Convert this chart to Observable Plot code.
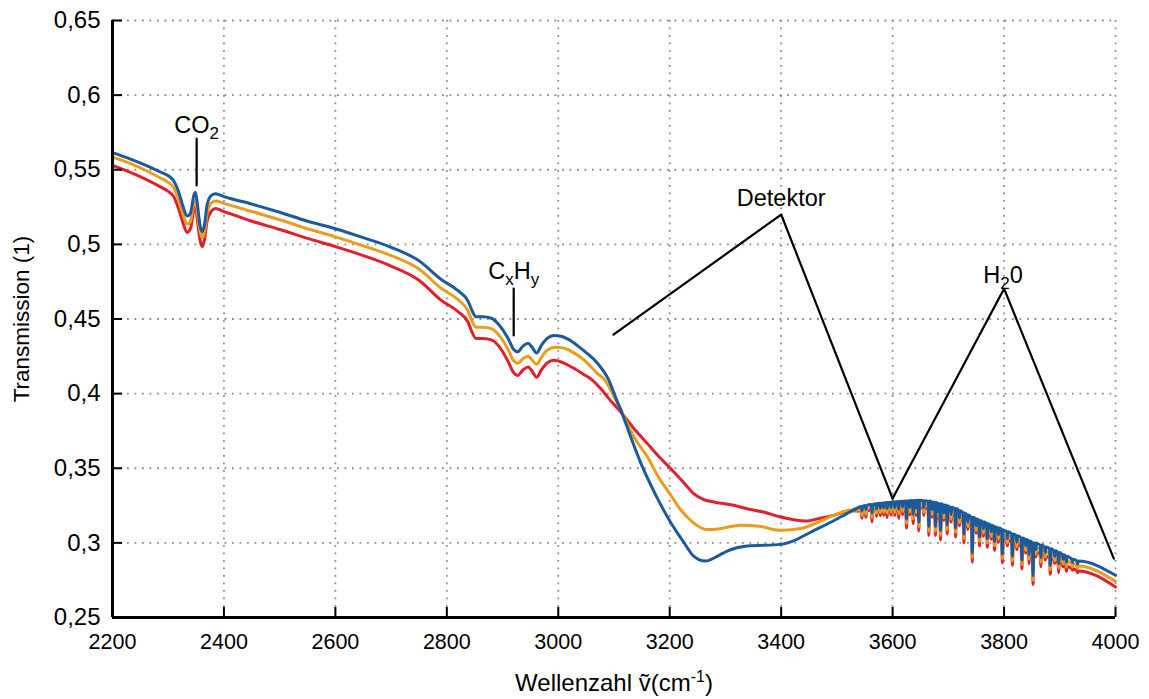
<!DOCTYPE html>
<html><head><meta charset="utf-8">
<script src="https://cdn.jsdelivr.net/npm/d3@7"></script>
<script src="https://cdn.jsdelivr.net/npm/@observablehq/plot@0.6"></script>
<style>
html,body{margin:0;padding:0;background:#fff;}
</style>
</head><body><div id="chart"></div>
<script>
// ---- tick values ----
const xTicks = [2200, 2400, 2600, 2800, 3000, 3200, 3400, 3600, 3800, 4000];
const yTicks = [0.25, 0.3, 0.35, 0.4, 0.45, 0.5, 0.55, 0.6, 0.65];

// ---- spectra: smooth part [wavenumber, transmission] ----
const blueBase = [
[2200,0.5615],[2230,0.5575],[2260,0.553],[2286,0.5485],[2300,0.546],[2310,0.5425],[2318,0.536],[2326,0.526],
[2334,0.519],[2340,0.521],[2346,0.533],[2349,0.535],[2352,0.528],[2357,0.513],[2361,0.5085],[2365,0.513],
[2370,0.527],[2378,0.533],[2385,0.534],[2400,0.532],[2450,0.527],[2500,0.5215],[2550,0.5155],[2600,0.5105],
[2650,0.5045],[2700,0.498],[2750,0.489],[2790,0.4765],[2820,0.469],[2838,0.462],[2846,0.455],[2852,0.4515],
[2865,0.4515],[2880,0.4505],[2895,0.4455],[2910,0.437],[2920,0.4295],[2927,0.428],[2937,0.432],[2946,0.4337],
[2953,0.431],[2961,0.4272],[2970,0.4325],[2980,0.437],[2992,0.439],[3005,0.4385],[3020,0.436],[3035,0.432],
[3050,0.4275],[3070,0.4205],[3090,0.4095],[3105,0.3955],[3112,0.3893],[3130,0.371],[3148,0.3536],[3175,0.332],
[3202,0.3135],[3225,0.3005],[3243,0.2911],[3264,0.2878],[3285,0.291],[3303,0.2945],[3339,0.2979],[3399,0.299],
[3420,0.301],[3440,0.3046],[3460,0.3085],[3482,0.3125],[3510,0.318],[3536,0.3232],[3560,0.3257],[3600,0.3274],
[3650,0.3285],[3700,0.3245],[3740,0.3175],[3800,0.3084],[3860,0.2995],[3920,0.2895],[4000,0.2783]
];
const orangeBase = [
[2200,0.5585],[2230,0.5545],[2260,0.5495],[2286,0.5445],[2300,0.5415],[2310,0.538],[2318,0.5305],[2326,0.521],
[2334,0.5135],[2340,0.5155],[2346,0.528],[2349,0.5295],[2352,0.522],[2357,0.509],[2361,0.5045],[2365,0.508],
[2370,0.521],[2378,0.528],[2385,0.529],[2400,0.5275],[2450,0.522],[2500,0.5165],[2550,0.5105],[2600,0.505],
[2650,0.499],[2700,0.4925],[2750,0.4835],[2790,0.4705],[2820,0.463],[2838,0.4555],[2846,0.448],[2852,0.4445],
[2865,0.4445],[2880,0.4435],[2895,0.4385],[2910,0.4295],[2920,0.422],[2927,0.4203],[2937,0.4235],[2946,0.425],
[2953,0.4225],[2961,0.4196],[2970,0.4245],[2980,0.429],[2995,0.431],[3010,0.4305],[3025,0.428],[3045,0.423],
[3070,0.4136],[3083,0.4094],[3100,0.398],[3112,0.3893],[3135,0.3715],[3160,0.3575],[3180,0.344],[3202,0.3319],
[3220,0.322],[3237,0.3152],[3252,0.311],[3267,0.3089],[3290,0.3095],[3327,0.3118],[3360,0.3112],[3399,0.3084],
[3440,0.31],[3470,0.3145],[3494,0.3184],[3525,0.322],[3560,0.3237],[3600,0.3251],[3650,0.326],[3700,0.322],
[3740,0.315],[3800,0.3055],[3860,0.2965],[3920,0.2863],[4000,0.2742]
];
const redBase = [
[2200,0.5529],[2230,0.5485],[2260,0.5435],[2286,0.5385],[2300,0.5355],[2310,0.532],[2318,0.5245],[2326,0.515],
[2334,0.508],[2340,0.5105],[2346,0.523],[2349,0.525],[2352,0.517],[2357,0.503],[2361,0.4985],[2365,0.503],
[2370,0.516],[2378,0.5225],[2385,0.524],[2400,0.522],[2450,0.5155],[2500,0.51],[2550,0.504],[2600,0.4985],
[2650,0.4925],[2700,0.4855],[2750,0.476],[2790,0.4625],[2820,0.455],[2838,0.448],[2846,0.4405],[2852,0.437],
[2865,0.437],[2880,0.436],[2895,0.431],[2910,0.4215],[2920,0.414],[2927,0.4122],[2937,0.416],[2946,0.4178],
[2953,0.415],[2961,0.411],[2970,0.416],[2980,0.4205],[2992,0.4223],[3010,0.4205],[3030,0.4165],[3045,0.413],
[3060,0.4094],[3076,0.4035],[3090,0.397],[3112,0.3877],[3135,0.377],[3160,0.3665],[3180,0.358],[3202,0.3497],
[3225,0.3405],[3243,0.333],[3260,0.3292],[3279,0.3274],[3310,0.3255],[3339,0.3229],[3370,0.3205],[3399,0.3173],
[3444,0.3146],[3470,0.3165],[3494,0.3184],[3525,0.3215],[3560,0.322],[3600,0.323],[3650,0.3235],[3700,0.3195],
[3740,0.3125],[3800,0.303],[3860,0.2935],[3920,0.283],[4000,0.2704]
];

// ---- water-vapour absorption lines: [wavenumber, level beside line, bottom of line] ----
const blueSpikes = [
[3563,0.3257,0.320],[3590,0.3270,0.323],[3611,0.3278,0.3225],[3625,0.3281,0.316],[3637,0.3284,0.319],
[3647,0.3285,0.314],[3665,0.3280,0.311],[3677,0.3270,0.311],[3686,0.3262,0.308],[3698,0.3248,0.312],
[3713,0.3230,0.310],[3728,0.3200,0.306],[3743,0.3172,0.293],[3756,0.3150,0.304],[3770,0.3128,0.303],
[3783,0.3108,0.301],[3797,0.3088,0.2925],[3815,0.3060,0.291],[3832,0.3032,0.2885],[3845,0.3012,0.292],
[3852,0.3000,0.278],[3866,0.2985,0.290],[3883,0.2960,0.285],[3898,0.2935,0.286],[3912,0.2910,0.287]
];
const orangeSpikes = [
[3563,0.3237,0.317],[3590,0.3247,0.320],[3611,0.3253,0.3195],[3625,0.3256,0.313],[3637,0.3259,0.316],
[3647,0.3260,0.311],[3665,0.3255,0.308],[3677,0.3245,0.308],[3686,0.3237,0.305],[3698,0.3223,0.309],
[3713,0.3203,0.307],[3728,0.3173,0.303],[3743,0.3145,0.290],[3756,0.3122,0.301],[3770,0.3099,0.300],
[3783,0.3079,0.298],[3797,0.3058,0.2895],[3815,0.3030,0.288],[3832,0.3002,0.2855],[3845,0.2982,0.289],
[3852,0.2970,0.275],[3866,0.2955,0.287],[3883,0.2928,0.282],[3898,0.2903,0.283],[3912,0.2878,0.284]
];
const redSpikes = [
[3563,0.3222,0.314],[3590,0.3227,0.317],[3611,0.3231,0.3165],[3625,0.3233,0.310],[3637,0.3235,0.313],
[3647,0.3235,0.308],[3665,0.3230,0.305],[3677,0.3220,0.305],[3686,0.3212,0.302],[3698,0.3198,0.306],
[3713,0.3178,0.304],[3728,0.3147,0.300],[3743,0.3120,0.287],[3756,0.3097,0.298],[3770,0.3072,0.297],
[3783,0.3051,0.295],[3797,0.3034,0.2865],[3815,0.3003,0.285],[3832,0.2974,0.2825],[3845,0.2952,0.286],
[3852,0.2940,0.272],[3866,0.2925,0.284],[3883,0.2898,0.279],[3898,0.2870,0.280],[3912,0.2843,0.281]
];
// small lines (noise band)
const blueNoise = [
[3545,0.3243,0.3215],[3552,0.3250,0.3222],[3571,0.3262,0.3228],[3578,0.3265,0.3232],[3584,0.3268,0.3235],
[3597,0.3273,0.3238],[3604,0.3275,0.3235],[3618,0.3279,0.3240],[3631,0.3282,0.3238],[3642,0.3284,0.3235],
[3656,0.3283,0.3235],[3671,0.3274,0.3222],[3682,0.3264,0.3210],[3692,0.3254,0.3200],[3705,0.3238,0.3190],
[3720,0.3215,0.3165],[3735,0.3186,0.3140],[3750,0.3160,0.3115],[3763,0.3140,0.3095],[3777,0.3118,0.3075],
[3790,0.3100,0.3055],[3806,0.3075,0.3030],[3823,0.3048,0.3005],[3839,0.3022,0.2980],[3857,0.2999,0.2955],
[3874,0.2972,0.2935],[3891,0.2947,0.2910],[3906,0.2920,0.2890],[3923,0.2891,0.2868],[3932,0.2878,0.2858]
];
const orangeNoise = [
[3545,0.3221,0.3185],[3552,0.3228,0.3192],[3571,0.3240,0.3198],[3578,0.3243,0.3202],[3584,0.3245,0.3205],
[3597,0.3250,0.3208],[3604,0.3252,0.3205],[3618,0.3255,0.3210],[3631,0.3258,0.3208],[3642,0.3259,0.3205],
[3656,0.3258,0.3205],[3671,0.3249,0.3192],[3682,0.3239,0.3180],[3692,0.3229,0.3170],[3705,0.3212,0.3160],
[3720,0.3188,0.3135],[3735,0.3160,0.3110],[3750,0.3133,0.3085],[3763,0.3112,0.3065],[3777,0.3090,0.3045],
[3790,0.3071,0.3025],[3806,0.3046,0.3000],[3823,0.3018,0.2975],[3839,0.2991,0.2950],[3857,0.2969,0.2925],
[3874,0.2941,0.2905],[3891,0.2915,0.2880],[3906,0.2888,0.2860],[3923,0.2858,0.2838],[3932,0.2845,0.2828]
];
const redNoise = [
[3545,0.3211,0.3165],[3552,0.3214,0.3172],[3571,0.3223,0.3178],[3578,0.3225,0.3182],[3584,0.3226,0.3185],
[3597,0.3229,0.3188],[3604,0.3230,0.3185],[3618,0.3232,0.3190],[3631,0.3234,0.3188],[3642,0.3235,0.3185],
[3656,0.3233,0.3185],[3671,0.3224,0.3172],[3682,0.3214,0.3160],[3692,0.3204,0.3150],[3705,0.3188,0.3140],
[3720,0.3163,0.3115],[3735,0.3134,0.3090],[3750,0.3108,0.3065],[3763,0.3087,0.3045],[3777,0.3063,0.3025],
[3790,0.3045,0.3005],[3806,0.3020,0.2980],[3823,0.2990,0.2955],[3839,0.2962,0.2930],[3857,0.2940,0.2905],
[3874,0.2910,0.2885],[3891,0.2882,0.2860],[3906,0.2855,0.2840],[3923,0.2826,0.2816],[3932,0.2812,0.2800]
];

// ---- annotations ----
const detektorPath = [[3099,0.4395],[3400,0.52],[3600,0.3297]];
const h2oPath = [[3600,0.3297],[3800,0.4703],[3997,0.2894]];
const co2Pointer = [[2351,0.5708],[2351,0.5395]];
const cxhyPointer = [[2920,0.4703],[2920,0.439]];
const annoLabels = [
  {key:"CO2", x:2351, y:0.5743},
  {key:"CxHy", x:2920, y:0.477},
  {key:"Detektor", x:3400, y:0.5254},
  {key:"H2O", x:3798, y:0.474}
];
const yTitle = "Transmission (1)";
const xTitle = "Wellenzahl v(cm-1)";

function buildSeries(base, ...lineSets) {
  const pts = base.map(([x, y]) => ({x, y}));
  for (const set of lineSets) for (const [x, level, bottom] of set) {
    pts.push({x: x - 1.4, y: level}, {x, y: bottom}, {x: x + 1.4, y: level});
  }
  pts.sort((a, b) => a.x - b.x);
  return pts;
}
const blue = buildSeries(blueBase, blueSpikes, blueNoise);
const orange = buildSeries(orangeBase, orangeSpikes, orangeNoise);
const red = buildSeries(redBase, redSpikes, redNoise);
const toObj = (arr) => arr.map(([x, y]) => ({x, y}));

const FONT = "'Liberation Sans', Arial, Helvetica, sans-serif";
const gridStyle = {stroke: "#8c8c8c", strokeOpacity: 1, strokeWidth: 1.8, strokeDasharray: "1.8 5.7"};
const lineW = 3;
const curve = "monotone-x";

const chart = Plot.plot({
  width: 1149, height: 699,
  marginLeft: 112, marginRight: 34, marginTop: 20, marginBottom: 82,
  style: {fontFamily: FONT, fontSize: "21px", color: "#000", background: "#fff", overflow: "visible"},
  x: {domain: [2200, 4000]},
  y: {domain: [0.25, 0.65]},
  marks: [
    Plot.gridX(xTicks.slice(1), gridStyle),
    Plot.gridY(yTicks.slice(1), gridStyle),
    Plot.line(red, {x: "x", y: "y", stroke: "#e2202c", strokeWidth: lineW, curve}),
    Plot.line(orange, {x: "x", y: "y", stroke: "#ec9c1c", strokeWidth: lineW, curve}),
    Plot.line(blue, {x: "x", y: "y", stroke: "#1b5b9d", strokeWidth: lineW, curve}),
    Plot.line(toObj(detektorPath), {x: "x", y: "y", stroke: "#000", strokeWidth: 2.2}),
    Plot.line(toObj(h2oPath), {x: "x", y: "y", stroke: "#000", strokeWidth: 2.2}),
    Plot.line(toObj(co2Pointer), {x: "x", y: "y", stroke: "#000", strokeWidth: 2.2}),
    Plot.line(toObj(cxhyPointer), {x: "x", y: "y", stroke: "#000", strokeWidth: 2.2}),
    Plot.text(annoLabels, {x: "x", y: "y", text: "key", textAnchor: "middle", lineAnchor: "bottom", fontSize: 23.5, fill: "#000"}),
    Plot.axisX(xTicks, {tickSize: -10, tickPadding: 26, tickFormat: d => String(d), label: null, stroke: "#000", strokeWidth: 2, fontSize: 21.5}),
    Plot.axisY(yTicks, {tickSize: -10, tickPadding: 22, tickFormat: d => String(d).replace(".", ","), label: null, stroke: "#000", strokeWidth: 2, fontSize: 24}),
    Plot.ruleX([2200], {stroke: "#000", strokeWidth: 3}),
    Plot.ruleY([0.25], {stroke: "#000", strokeWidth: 3}),
    Plot.text([yTitle], {frameAnchor: "left", rotate: -90, dx: -91, textAnchor: "middle", lineAnchor: "middle", fontSize: 22.5, fill: "#000"}),
    Plot.text([xTitle], {frameAnchor: "bottom", dy: 66, textAnchor: "middle", lineAnchor: "middle", fontSize: 24, fill: "#000"})
  ]
});
document.getElementById("chart").appendChild(chart);

// rich text: sub/superscripts
const NS = "http://www.w3.org/2000/svg";
function rich(el, parts, sub) {
  el.textContent = "";
  for (const [t, kind] of parts) {
    const ts = document.createElementNS(NS, "tspan");
    ts.textContent = t;
    if (kind === "sub") { ts.setAttribute("font-size", sub.size); ts.setAttribute("dy", sub.shift); }
    if (kind === "subEnd") { ts.setAttribute("dy", -sub.shift); }
    if (kind === "sup") { ts.setAttribute("font-size", sub.size); ts.setAttribute("dy", -sub.shift); }
    if (kind === "supEnd") { ts.setAttribute("dy", sub.shift); }
    el.appendChild(ts);
  }
}
const annoSub = {size: 17, shift: 6};
chart.querySelectorAll("text").forEach(el => {
  const t = el.textContent;
  if (t === "CO2") rich(el, [["CO", ""], ["2", "sub"]], annoSub);
  else if (t === "CxHy") rich(el, [["C", ""], ["x", "sub"], ["H", "subEnd"], ["y", "sub"]], annoSub);
  else if (t === "H2O") rich(el, [["H", ""], ["2", "sub"], ["0", "subEnd"]], annoSub);
  else if (t === xTitle) rich(el, [["Wellenzahl v\u0303(cm", ""], ["-1", "sup"], [")", "supEnd"]], {size: 16, shift: 9});
});
</script>
</body></html>
